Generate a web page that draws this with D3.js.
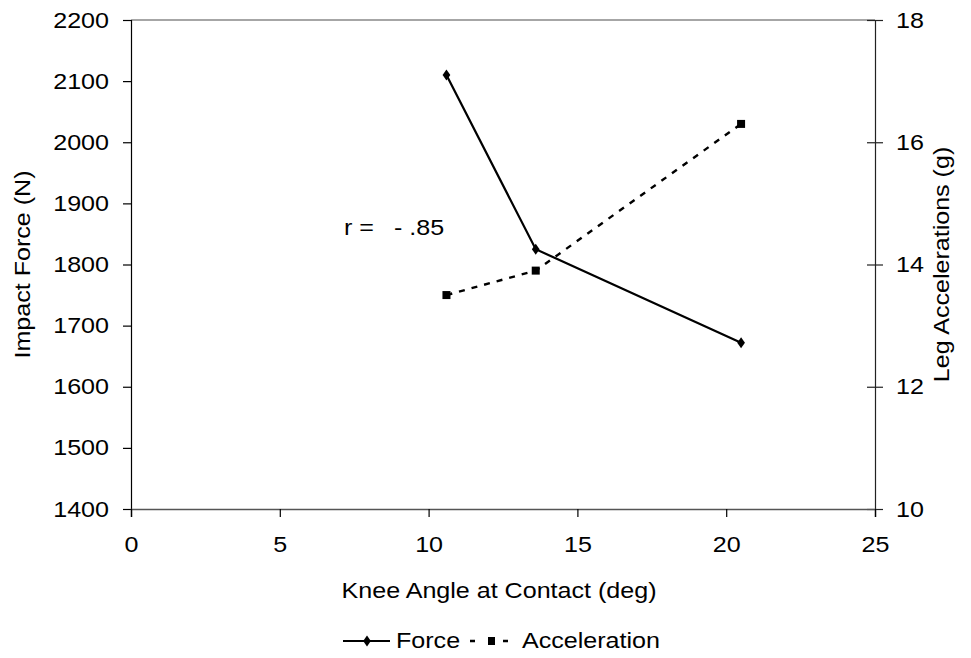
<!DOCTYPE html>
<html><head><meta charset="utf-8">
<script src="https://cdn.jsdelivr.net/npm/d3@7"></script>
<style>body{margin:0;background:#fff}svg text{font-family:"Liberation Sans",Arial,sans-serif;font-size:22px}</style>
</head><body><svg id="c" width="971" height="658"></svg>
<script>
const kneeAngle = [10.6, 13.6, 20.5];
const force = [2110, 1825, 1672];
const acceleration = [13.5, 13.9, 16.3];
const xTicks = [0, 5, 10, 15, 20, 25];
const yLeftTicks = [1400, 1500, 1600, 1700, 1800, 1900, 2000, 2100, 2200];
const yRightTicks = [10, 12, 14, 16, 18];
const seriesNames = ["Force", "Acceleration"];

const svg = d3.select("#c");
const L = 131, R = 875, T = 20, B = 509;
const SX = 1.14;
const x = d3.scaleLinear().domain([0, 25]).range([L, R]);
const yL = d3.scaleLinear().domain([1400, 2200]).range([B, T]);
const yR = d3.scaleLinear().domain([10, 18]).range([B, T]);
const styleText = sel => sel.style("font-size", "22px").style("font-family", "'Liberation Sans', Arial, sans-serif").attr("fill", "#000");
// horizontally stretch tick text keeping anchor position
const stretch = sel => sel.each(function () {
  const t = d3.select(this);
  const xx = +(t.attr("x") || 0);
  t.attr("x", xx / SX).attr("transform", `scale(${SX},1)`);
});

// top border
svg.append("line").attr("x1", L).attr("x2", R).attr("y1", T).attr("y2", T).attr("stroke", "#888").attr("stroke-width", 1.3);

// left axis
const gL = svg.append("g").attr("transform", `translate(${L},0)`)
  .call(d3.axisLeft(yL).tickValues(yLeftTicks).tickSize(8).tickPadding(14).tickFormat(d3.format("d")));
gL.select(".domain").attr("stroke", "#000").attr("stroke-width", 1.2);
gL.selectAll(".tick line").attr("stroke", "#000").attr("stroke-width", 1.2);
gL.selectAll("text").call(styleText).call(stretch);

// right axis
const gR = svg.append("g").attr("transform", `translate(${R},0)`)
  .call(d3.axisRight(yR).tickValues(yRightTicks).tickSize(8).tickPadding(13));
gR.select(".domain").attr("stroke", "#222").attr("stroke-width", 1.2);
gR.selectAll(".tick line").attr("stroke", "#222").attr("stroke-width", 1.2).attr("x1", -8);
gR.selectAll("text").call(styleText).call(stretch);

// bottom axis
const gB = svg.append("g").attr("transform", `translate(0,${B})`)
  .call(d3.axisBottom(x).tickValues(xTicks).tickSize(8).tickPadding(19));
gB.select(".domain").attr("stroke", "#555").attr("stroke-width", 1.5);
gB.selectAll(".tick line").attr("stroke", "#000").attr("stroke-width", 1.2);
gB.selectAll("text").call(styleText).call(stretch);

// titles
svg.append("text").attr("transform", `translate(499,598) scale(${SX},1)`).attr("text-anchor", "middle").call(styleText).text("Knee Angle at Contact (deg)");
svg.append("text").attr("transform", `translate(30,${(T + B) / 2}) rotate(-90) scale(${SX},1)`).attr("text-anchor", "middle").call(styleText).text("Impact Force (N)");
svg.append("text").attr("transform", `translate(949,${(T + B) / 2}) rotate(-90) scale(${SX},1)`).attr("text-anchor", "middle").call(styleText).text("Leg Accelerations (g)");

// lines
const fData = kneeAngle.map((k, i) => [k, force[i]]);
const aData = kneeAngle.map((k, i) => [k, acceleration[i]]);
svg.append("path").datum(fData).attr("fill", "none").attr("stroke", "#000").attr("stroke-width", 2.2)
  .attr("d", d3.line().x(d => x(d[0])).y(d => yL(d[1])));
svg.append("path").datum(aData).attr("fill", "none").attr("stroke", "#000").attr("stroke-width", 2.4).attr("stroke-dasharray", "6,7")
  .attr("d", d3.line().x(d => x(d[0])).y(d => yR(d[1])));

const diamond = d3.symbol().type(d3.symbolDiamond).size(36);
svg.selectAll(".fm").data(fData).join("path")
  .attr("transform", d => `translate(${x(d[0])},${yL(d[1])}) scale(1.2,1)`).attr("d", diamond).attr("fill", "#000");
svg.selectAll(".am").data(aData).join("rect")
  .attr("x", d => x(d[0]) - 4).attr("y", d => yR(d[1]) - 4).attr("width", 8).attr("height", 8).attr("fill", "#000");

// annotation
svg.append("text").attr("transform", `translate(344,235) scale(${SX},1)`).call(styleText).text("r =");
svg.append("text").attr("transform", `translate(394,235) scale(${SX},1)`).call(styleText).style("white-space", "pre").text("- .85");

// legend
const ly = 641;
svg.append("line").attr("x1", 343).attr("x2", 390).attr("y1", ly).attr("y2", ly).attr("stroke", "#000").attr("stroke-width", 2.2);
svg.append("path").attr("transform", `translate(367,${ly}) scale(1.2,1)`).attr("d", diamond).attr("fill", "#000");
svg.append("text").attr("transform", `translate(396,${ly + 7}) scale(${SX},1)`).call(styleText).text(seriesNames[0]);
svg.append("line").attr("x1", 470).attr("x2", 509).attr("y1", ly).attr("y2", ly).attr("stroke", "#000").attr("stroke-width", 2.4).attr("stroke-dasharray", "5,28");
svg.append("rect").attr("x", 488).attr("y", ly - 4).attr("width", 7).attr("height", 8).attr("fill", "#000");
svg.append("text").attr("transform", `translate(522,${ly + 7}) scale(${SX},1)`).call(styleText).text(seriesNames[1]);
</script></body></html>
